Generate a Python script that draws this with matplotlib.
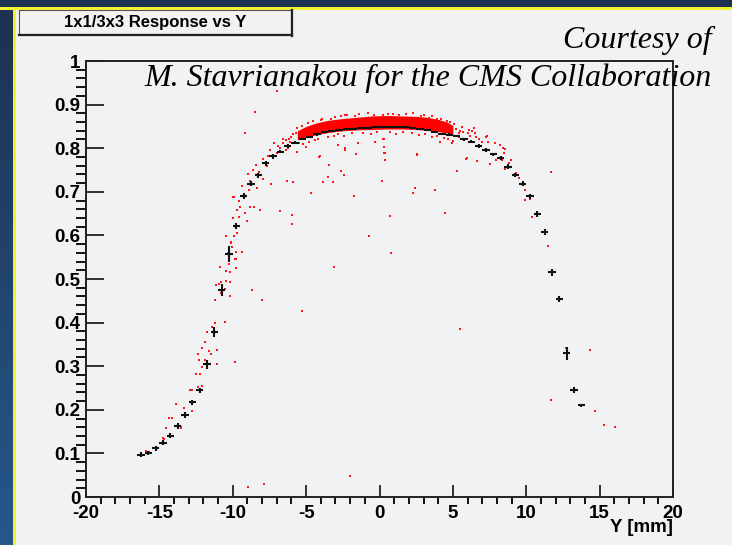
"""Response profile vs impact position Y: per-event responses (red) with
the binned mean and its error (black crosses)."""

import numpy as np
import matplotlib
matplotlib.use("Agg")
import matplotlib.pyplot as plt
from matplotlib.patches import Rectangle
from matplotlib.lines import Line2D
from matplotlib.ticker import MultipleLocator

plt.rcParams["axes.unicode_minus"] = False

W, H = 732, 545

# profile: mean response per 0.5 mm bin, first bin centred at -16.25 mm
BIN0, BINW = -16.25, 0.5
resp_mean = [
    0.097, 0.101, 0.112, 0.125, 0.141, 0.163, 0.188, 0.217, 0.245, 0.304,
    0.379, 0.475, 0.557, 0.622, 0.690, 0.719, 0.738, 0.765, 0.781, 0.792,
    0.805, 0.813, 0.821, 0.826, 0.832, 0.837, 0.839, 0.842,
    0.843, 0.845, 0.846, 0.847, 0.848, 0.849, 0.849, 0.849, 0.848, 0.846,
    0.844, 0.841, 0.837, 0.833, 0.831, 0.828, 0.820, 0.815, 0.805, 0.796,
    0.786, 0.777, 0.758, 0.739, 0.719, 0.690, 0.649, 0.607, 0.515, 0.455,
    0.330, 0.245, 0.210,
]
resp_err = [
    0.006, 0.005, 0.006, 0.006, 0.006, 0.006, 0.006, 0.006, 0.006, 0.010,
    0.011, 0.013, 0.019, 0.007, 0.007, 0.006, 0.006, 0.005, 0.005, 0.004,
    0.004, 0.004, 0.003, 0.003, 0.003, 0.002, 0.002, 0.002,
    0.002, 0.002, 0.002, 0.002, 0.002, 0.002, 0.002, 0.002, 0.002, 0.002,
    0.002, 0.002, 0.002, 0.003, 0.003, 0.003, 0.003, 0.004, 0.004, 0.004,
    0.004, 0.005, 0.005, 0.005, 0.006, 0.006, 0.007, 0.007, 0.007, 0.007,
    0.015, 0.007, 0.004,
]

# dense core of the event cloud on the plateau
band_x = [-5.6, -5.0, -4.3, -3.5, -2.5, -1.5, -0.5, 0.5, 1.5, 2.5, 3.2, 4.0, 4.6, 5.0]
band_hi = [0.840, 0.850, 0.858, 0.864, 0.868, 0.871, 0.874, 0.875, 0.874, 0.873,
           0.871, 0.866, 0.860, 0.852]
band_lo = [0.819, 0.825, 0.831, 0.836, 0.840, 0.842, 0.843, 0.844, 0.844, 0.843,
           0.841, 0.838, 0.835, 0.832]

# individual events outside the core
events = [
    (-11.9, 0.356), (-12.07, 0.341), (-11.05, 0.337), (-11.64, 0.335), (-11.48, 0.328),
    (-12.35, 0.328), (-12.32, 0.315), (-11.87, 0.314), (-11.05, 0.306), (-9.85, 0.309),
    (-12.07, 0.299), (-12.5, 0.281), (-12.23, 0.281), (-12.1, 0.255), (-12.35, 0.252),
    (-12.9, 0.245), (-12.76, 0.245), (-13.87, 0.214), (-13.34, 0.204), (-12.76, 0.197),
    (-14.34, 0.182), (-14.12, 0.182), (-14.57, 0.159), (-13.55, 0.159), (-14.7, 0.134),
    (-15.93, 0.106), (-15.69, 0.103), (-10.55, 0.402), (-10.46, 0.599), (-10.12, 0.584),
    (-9.83, 0.547), (-10.24, 0.535), (-10.19, 0.515), (-10.82, 0.494), (-9.35, 0.563),
    (-9.01, 0.634), (-9.55, 0.643), (-9.73, 0.658), (-9.51, 0.666), (-9.15, 0.652),
    (-8.57, 0.666), (-8.16, 0.659), (-9.94, 0.687), (-9.35, 0.713), (-8.91, 0.704),
    (-8.37, 0.708), (-7.41, 0.719), (-7.92, 0.730), (-8.96, 0.741), (-8.62, 0.750),
    (-8.44, 0.761), (-7.92, 0.776), (-7.58, 0.781), (-7.46, 0.797), (-7.17, 0.813),
    (-6.56, 0.820), (-6.26, 0.800), (-5.64, 0.846), (-5.60, 0.792), (-5.01, 0.803),
    (-4.05, 0.781), (-2.81, 0.807), (-2.35, 0.800), (-1.6, 0.787), (-11.2, 0.398),
    (-11.39, 0.391), (-11.73, 0.379), (-11.14, 0.486), (-10.96, 0.488), (-10.82, 0.467),
    (-10.55, 0.477), (-10.21, 0.461), (-11.23, 0.452), (-10.19, 0.494), (-10.46, 0.496),
    (-10.87, 0.528), (-10.46, 0.518), (-9.78, 0.526), (-9.78, 0.547), (-10.14, 0.583),
    (-10.03, 0.573), (-9.78, 0.561), (-9.91, 0.599), (-9.69, 0.605),
    (-9.2, 0.690), (-8.8, 0.725), (-8.2, 0.745), (-7.7, 0.760), (-7.0, 0.790),
    (-6.9, 0.805), (-6.4, 0.795), (-9.6, 0.680), (-10.0, 0.640), (-10.3, 0.560),
    (11.67, 0.745), (9.91, 0.703), (9.91, 0.681), (10.26, 0.683), (10.41, 0.643),
    (11.46, 0.576), (9.5, 0.731), (9.3, 0.744), (8.96, 0.773), (8.80, 0.765),
    (8.53, 0.753), (8.33, 0.773), (7.53, 0.764), (8.55, 0.798), (8.21, 0.807),
    (7.92, 0.773), (7.3, 0.829), (6.46, 0.846), (6.5, 0.834), (7.26, 0.826),
    (7.37, 0.815), (7.87, 0.811), (8.44, 0.800), (8.51, 0.788), (5.94, 0.777),
    (11.69, 0.222), (14.32, 0.338), (14.68, 0.198), (15.28, 0.164), (16.05, 0.160),
    (12.71, 0.341),
    (-6.96, 0.932), (-8.5, 0.884), (-9.19, 0.836), (-1.44, 0.811), (-2.35, 0.797),
    (-4.1, 0.780), (-3.42, 0.761), (-2.62, 0.748), (-2.42, 0.739), (-3.19, 0.722),
    (-3.49, 0.735), (0.33, 0.790), (0.37, 0.773), (0.22, 0.820), (0.17, 0.725),
    (0.69, 0.645), (2.58, 0.785), (2.4, 0.709), (2.26, 0.698), (3.8, 0.704),
    (4.46, 0.652), (5.3, 0.748), (6.62, 0.771), (5.9, 0.775), (-1.74, 0.690),
    (-0.74, 0.599), (-4.67, 0.697), (-5.96, 0.646), (-5.94, 0.626), (-6.78, 0.656),
    (-6.28, 0.725), (-5.92, 0.723), (-8.14, 0.658), (-9.96, 0.687), (-8.82, 0.664),
    (0.78, 0.560), (-3.12, 0.528), (-5.26, 0.427), (5.46, 0.385), (-8.69, 0.474),
    (-8.0, 0.452), (-9.87, 0.309), (-12.07, 0.255), (-14.73, 0.135), (-8.94, 0.024),
    (-7.85, 0.030), (-13.5, 0.160), (-2.0, 0.048), (2.56, 0.787), (0.37, 0.788),
    (-0.31, 0.815), (0.33, 0.803), (0.31, 0.820), (0.94, 0.878), (0.26, 0.876),
    (4.12, 0.815), (4.92, 0.811), (5.42, 0.834), (-3.83, 0.722), (-5.69, 0.835),
    (-2.35, 0.876),
    # fringe of the plateau core
    (-6.8, 0.800), (-6.6, 0.812), (-6.4, 0.818), (-6.2, 0.822), (-6.0, 0.826),
    (-6.1, 0.815), (-5.9, 0.833), (5.2, 0.845), (5.5, 0.840), (5.7, 0.838),
    (6.0, 0.835), (6.2, 0.828), (5.4, 0.826), (5.8, 0.822), (6.8, 0.820),
    (6.3, 0.840), (7.0, 0.815), (4.8, 0.860), (5.1, 0.855), (-4.5, 0.862),
    (-3.9, 0.868), (-3.0, 0.872), (-2.2, 0.877), (-1.4, 0.879), (-0.8, 0.880),
    (1.8, 0.879), (2.3, 0.880), (3.0, 0.877), (3.6, 0.874), (4.2, 0.868),
    (-4.8, 0.815), (-4.2, 0.822), (-3.5, 0.826), (-2.8, 0.832), (-1.9, 0.835),
    (-1.1, 0.836), (-0.2, 0.838), (0.7, 0.837), (1.6, 0.838), (2.2, 0.836),
    (3.1, 0.832), (3.9, 0.828), (4.4, 0.824),
    (-5.3, 0.852), (-4.9, 0.858), (-4.0, 0.864), (-3.3, 0.868), (-2.6, 0.874),
    (-1.7, 0.874), (-0.4, 0.877), (0.6, 0.879), (1.3, 0.876), (2.8, 0.874),
    (3.4, 0.870), (3.9, 0.866), (4.6, 0.863), (5.6, 0.848), (6.1, 0.842),
    (6.6, 0.826), (-5.5, 0.812), (-5.2, 0.809), (-4.4, 0.818), (-3.1, 0.828),
    (-2.4, 0.829), (-0.6, 0.832), (1.1, 0.833), (2.7, 0.830), (3.6, 0.826),
    (4.7, 0.820), (5.0, 0.816),
]
event_x = [p[0] for p in events]
event_y = [p[1] for p in events]

BG = "#f2f2f2"
NAVY = "#1c3250"
YELLOW = "#f2f230"


def px_box(x0, y0, x1, y1):
    """pixel box (top-left origin) -> figure-fraction (left, bottom, w, h)"""
    return x0 / W, 1 - y1 / H, (x1 - x0) / W, (y1 - y0) / H


fig = plt.figure(figsize=(W / 100, H / 100), dpi=100, facecolor=BG)

# window frame: navy strip on top, gradient strip on the left, yellow rims
l, b, w, h = px_box(0, 0, W, 7)
fig.add_artist(Rectangle((l, b), w, h, transform=fig.transFigure, color=NAVY, lw=0))
l, b, w, h = px_box(0, 7, W, 10)
fig.add_artist(Rectangle((l, b), w, h, transform=fig.transFigure, color=YELLOW, lw=0))
grad_ax = fig.add_axes(px_box(0, 7, 13, H))
grad_ax.axis("off")
c_top = np.array(matplotlib.colors.to_rgb(NAVY))
c_bot = np.array(matplotlib.colors.to_rgb("#27578c"))
t = np.linspace(0, 1, 256)[:, None]
grad_ax.imshow((c_top * (1 - t) + c_bot * t)[:, None, :], aspect="auto",
               extent=(0, 1, 0, 1))
l, b, w, h = px_box(13, 7, 16, H)
fig.add_artist(Rectangle((l, b), w, h, transform=fig.transFigure, color=YELLOW, lw=0))

# title box with drop shadow
l, b, w, h = px_box(19, 10, 291, 34)
fig.add_artist(Rectangle((l, b), w, h, transform=fig.transFigure, facecolor=BG,
                         edgecolor="#555555", lw=0.8))
fig.add_artist(Line2D([19 / W, 292 / W], [1 - 35 / H, 1 - 35 / H],
                      transform=fig.transFigure, color="#222222", lw=1.6))
fig.add_artist(Line2D([292 / W, 292 / W], [1 - 10 / H, 1 - 35.5 / H],
                      transform=fig.transFigure, color="#222222", lw=1.6))
fig.text(155 / W, 1 - 22.5 / H, "1x1/3x3 Response vs Y", ha="center", va="center",
         fontsize=12, fontweight="bold", family="Liberation Sans")

ax = fig.add_axes(px_box(86, 61, 673, 497))
ax.set_facecolor(BG)
ax.set_xlim(-20, 20)
ax.set_ylim(0, 1)

ax.fill_between(band_x, band_lo, band_hi, color="#ff0000", lw=0, zorder=2)
ax.scatter(event_x, event_y, s=2.4, marker="s", c="#ff1a1a", linewidths=0, zorder=3)

centres = BIN0 + BINW * np.arange(len(resp_mean))
ax.errorbar(centres, resp_mean, xerr=BINW / 2, yerr=resp_err, fmt="none",
            ecolor="#111111", elinewidth=1.5, capsize=0, zorder=4)

for s in ("top", "right", "left", "bottom"):
    ax.spines[s].set_linewidth(1.4)
    ax.spines[s].set_color("#222222")

ax.xaxis.set_major_locator(MultipleLocator(5))
ax.xaxis.set_minor_locator(MultipleLocator(1))
ax.yaxis.set_major_locator(MultipleLocator(0.1))
ax.yaxis.set_minor_locator(MultipleLocator(0.02))
ax.tick_params(direction="in", top=False, right=False, colors="#222222",
               labelcolor="black", labelsize=13.5)
ax.tick_params(axis="x", which="major", length=8.5, width=1.3, pad=6)
ax.tick_params(axis="x", which="minor", length=5, width=1.3)
ax.tick_params(axis="y", which="major", length=13, width=1.3, pad=4)
ax.tick_params(axis="y", which="minor", length=7, width=1.3)
ax.set_yticks([0, 0.1, 0.2, 0.3, 0.4, 0.5, 0.6, 0.7, 0.8, 0.9, 1])
ax.set_yticklabels(["0", "0.1", "0.2", "0.3", "0.4", "0.5", "0.6", "0.7", "0.8",
                    "0.9", "1"])
for lab in ax.get_xticklabels() + ax.get_yticklabels():
    lab.set_fontweight("bold")
    lab.set_family("Liberation Sans")

fig.text(673 / W, 1 - 528 / H, "Y [mm]", ha="right", va="center", fontsize=13.5,
         fontweight="bold", family="Liberation Sans")

fig.text(712 / W, 1 - 48 / H, "Courtesy of", ha="right", va="baseline",
         fontsize=23, style="italic", family="Liberation Serif")
fig.text(712 / W, 1 - 86 / H, "M. Stavrianakou for the CMS Collaboration",
         ha="right", va="baseline", fontsize=23, style="italic",
         family="Liberation Serif")

fig.savefig("out.png", dpi=100, facecolor=BG)
